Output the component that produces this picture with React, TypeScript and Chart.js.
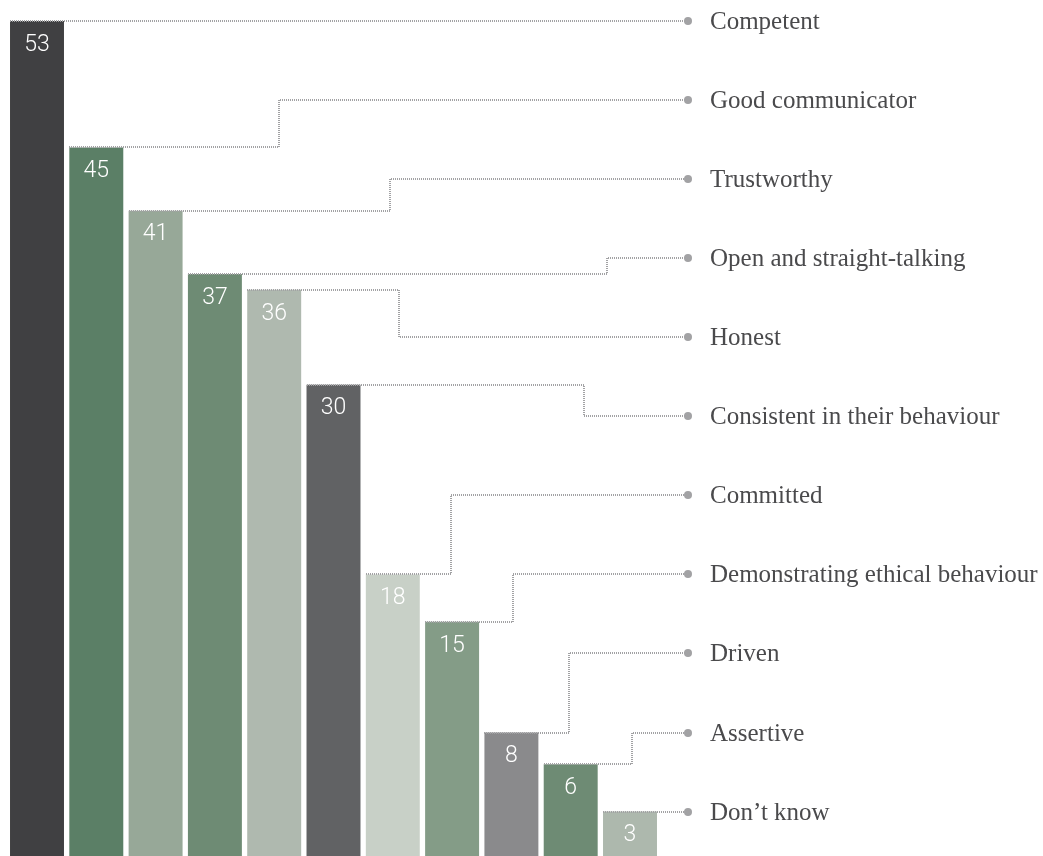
import React, { useEffect, useRef } from "react";
import { Chart, registerables } from "chart.js";

Chart.register(...registerables);

const categories = [
  "Competent",
  "Good communicator",
  "Trustworthy",
  "Open and straight-talking",
  "Honest",
  "Consistent in their behaviour",
  "Committed",
  "Demonstrating ethical behaviour",
  "Driven",
  "Assertive",
  "Don\u2019t know",
];

const values = [53, 45, 41, 37, 36, 30, 18, 15, 8, 6, 3];

const barColors = [
  "#404042",
  "#5b7f66",
  "#97a898",
  "#6e8b74",
  "#afb9af",
  "#616264",
  "#c8d0c7",
  "#849c87",
  "#8a8a8c",
  "#6e8b74",
  "#adb8ad",
];

// x position where each connector steps vertically (layout)
const connectorStepX: (number | null)[] = [null, 279, 390, 607, 399, 584, 451, 513, 569, 632, null];

const DOT_X = 688;
const TEXT_X = 710;
const LINE_COLOR = "#a2a2a4";

const labelPlugin = {
  id: "connectorLabels",
  afterDatasetsDraw(chart: any) {
    const ctx = chart.ctx as CanvasRenderingContext2D;
    const meta = chart.getDatasetMeta(0);
    const n = meta.data.length;
    const firstY = meta.data[0].y;
    const lastY = meta.data[n - 1].y;
    for (let i = 0; i < n; i++) {
      const bar = meta.data[i];
      const { x, y, width } = bar.getProps(["x", "y", "width"], true);
      const left = Math.round(x - width / 2);
      const ry = Math.round(y);
      const labelY = Math.round(firstY + ((lastY - firstY) * i) / (n - 1));
      const sx = connectorStepX[i];

      ctx.save();
      ctx.strokeStyle = LINE_COLOR;
      ctx.lineWidth = 2;
      ctx.setLineDash([1, 1]);
      ctx.beginPath();
      ctx.moveTo(left, ry);
      if (sx != null) {
        ctx.lineTo(sx, ry);
        ctx.lineTo(sx, labelY);
        ctx.lineTo(DOT_X, labelY);
      } else {
        ctx.lineTo(DOT_X, labelY);
      }
      ctx.stroke();
      ctx.setLineDash([]);

      ctx.fillStyle = LINE_COLOR;
      ctx.beginPath();
      ctx.arc(DOT_X, labelY, 4, 0, Math.PI * 2);
      ctx.fill();

      ctx.fillStyle = "#4a4a4c";
      ctx.font = '25px "Liberation Serif"';
      ctx.textAlign = "left";
      ctx.textBaseline = "middle";
      ctx.fillText(categories[i], TEXT_X, labelY + 1);

      ctx.fillStyle = "#ffffff";
      ctx.font = '300 23px Roboto';
      ctx.textAlign = "center";
      ctx.textBaseline = "middle";
      ctx.fillText(String(values[i]), x, y + 24);
      ctx.restore();
    }
  },
};

export default function App() {
  const ref = useRef<HTMLCanvasElement | null>(null);

  useEffect(() => {
    if (!ref.current) return;
    const chart = new Chart(ref.current, {
      type: "bar",
      data: {
        labels: categories,
        datasets: [
          {
            data: values,
            backgroundColor: barColors,
            borderWidth: 0,
            categoryPercentage: 1,
            barPercentage: 0.91,
          },
        ],
      },
      options: {
        animation: false,
        responsive: false,
        devicePixelRatio: 1,
        layout: { padding: { left: 7.35, right: 383.35, top: 21, bottom: 1 } },
        plugins: {
          legend: { display: false },
          tooltip: { enabled: false },
        },
        scales: {
          x: { display: false },
          y: { display: false, min: 0, max: Math.max(...values) },
        },
      },
      plugins: [labelPlugin],
    });
    return () => chart.destroy();
  }, []);

  return (
    <div
      style={{
        position: "fixed",
        left: 0,
        top: 0,
        width: 1043,
        height: 856,
        overflow: "hidden",
        background: "#fff",
      }}
    >
      <canvas ref={ref} width={1043} height={860} style={{ display: "block" }} />
    </div>
  );
}
